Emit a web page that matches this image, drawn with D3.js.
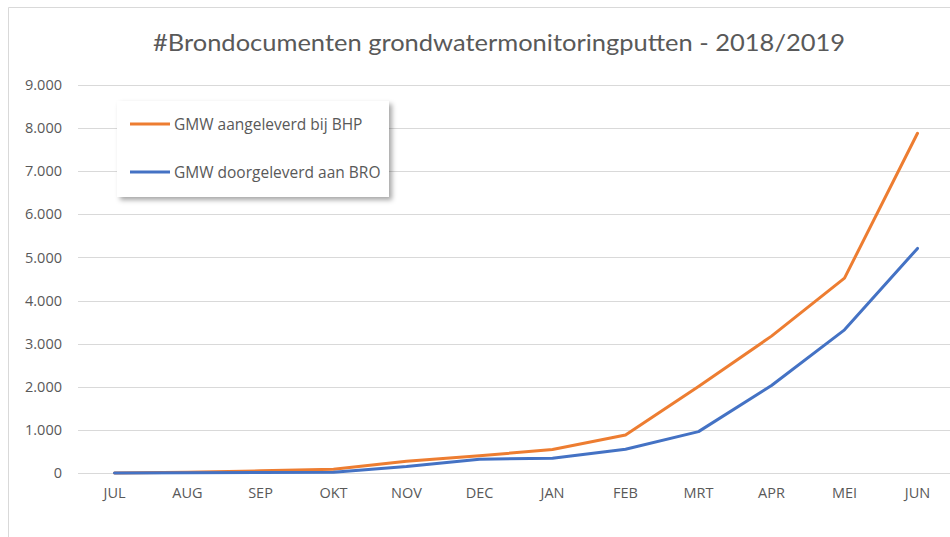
<!DOCTYPE html>
<html><head><meta charset="utf-8">
<script src="https://cdn.jsdelivr.net/npm/d3@7"></script>
<style>
html,body{margin:0;padding:0;background:#fff;}
svg{display:block;}
text{font-family:"Open Sans","Noto Sans",sans-serif;}
</style></head>
<body>
<svg id="chart" width="950" height="537"></svg>
<script>
const title = "#Brondocumenten grondwatermonitoringputten - 2018/2019";
const months = ["JUL","AUG","SEP","OKT","NOV","DEC","JAN","FEB","MRT","APR","MEI","JUN"];
const seriesNames = ["GMW aangeleverd bij BHP", "GMW doorgeleverd aan BRO"];
const aangeleverd = [0, 15, 50, 85, 270, 400, 545, 880, 2005, 3175, 4520, 7880];
const doorgeleverd = [0, 5, 10, 20, 150, 320, 340, 550, 960, 2030, 3320, 5210];
const yTicks = [0, 1000, 2000, 3000, 4000, 5000, 6000, 7000, 8000, 9000];
const colors = ["#ED7D31", "#4472C4"];

const svg = d3.select("#chart");

// chart border
svg.append("path").attr("d", "M8.5,537 L8.5,7.5 L950,7.5")
  .attr("fill","none").attr("stroke","#D9D9D9").attr("stroke-width",1);

const x = d3.scaleBand().domain(months).range([78, 954]);
const y = d3.scaleLinear().domain([0, 9000]).range([473, 85]);
const nl = d3.formatLocale({decimal:",", thousands:".", grouping:[3], currency:["€",""]});
const fmt = nl.format(",d");

// gridlines
svg.append("g").selectAll("line").data(yTicks).join("line")
  .attr("x1", 78).attr("x2", 950)
  .attr("y1", d => Math.round(y(d)) + 0.5).attr("y2", d => Math.round(y(d)) + 0.5)
  .attr("stroke", "#D9D9D9").attr("stroke-width", 1);

// y axis labels
const yAxis = d3.axisLeft(y).tickValues(yTicks).tickFormat(fmt).tickSize(0).tickPadding(0);
const gy = svg.append("g").attr("transform", "translate(62,0)").call(yAxis);
gy.select(".domain").remove();
gy.selectAll("text").attr("fill", "#595959").style("font-size", "14.5px")
  .style("font-family", '"Open Sans","Noto Sans",sans-serif');

// x axis labels
const xAxis = d3.axisBottom(x).tickSize(0).tickPadding(0);
const gx = svg.append("g").attr("transform", "translate(0,488)").call(xAxis);
gx.select(".domain").remove();
gx.selectAll("text").attr("fill", "#595959").style("font-size", "14.5px")
  .style("font-family", '"Open Sans","Noto Sans",sans-serif');

// lines
const line = d3.line().x((d, i) => x(months[i]) + x.bandwidth() / 2).y(d => y(d));
[aangeleverd, doorgeleverd].forEach((s, k) => {
  svg.append("path").datum(s).attr("d", line)
    .attr("fill", "none").attr("stroke", colors[k]).attr("stroke-width", 3)
    .attr("stroke-linejoin", "round").attr("stroke-linecap", "round");
});

// title
svg.append("text").attr("x", 499).attr("y", 51).attr("text-anchor", "middle")
  .attr("fill", "#595959").style("font-size", "23px").style("font-family", 'Lato,"Open Sans",sans-serif')
  .attr("textLength", 692).attr("lengthAdjust", "spacingAndGlyphs")
  .text(title);

// legend
const defs = svg.append("defs");
const f = defs.append("filter").attr("id", "shadow").attr("x", "-10%").attr("y", "-10%").attr("width", "130%").attr("height", "140%");
f.append("feDropShadow").attr("dx", 3).attr("dy", 3).attr("stdDeviation", 2.5)
  .attr("flood-color", "#000").attr("flood-opacity", 0.35);
const lg = svg.append("g");
lg.append("rect").attr("x", 117).attr("y", 101).attr("width", 272).attr("height", 96)
  .attr("fill", "#fff").attr("filter", "url(#shadow)");
const ly = [124, 172];
const lw = [191, 210];
seriesNames.forEach((n, k) => {
  lg.append("line").attr("x1", 130).attr("x2", 170).attr("y1", ly[k]).attr("y2", ly[k])
    .attr("stroke", colors[k]).attr("stroke-width", 3);
  lg.append("text").attr("x", 174).attr("y", ly[k] + 5.5).attr("fill", "#595959")
    .style("font-size", "15.5px").text(n);
});
</script>
</body></html>
